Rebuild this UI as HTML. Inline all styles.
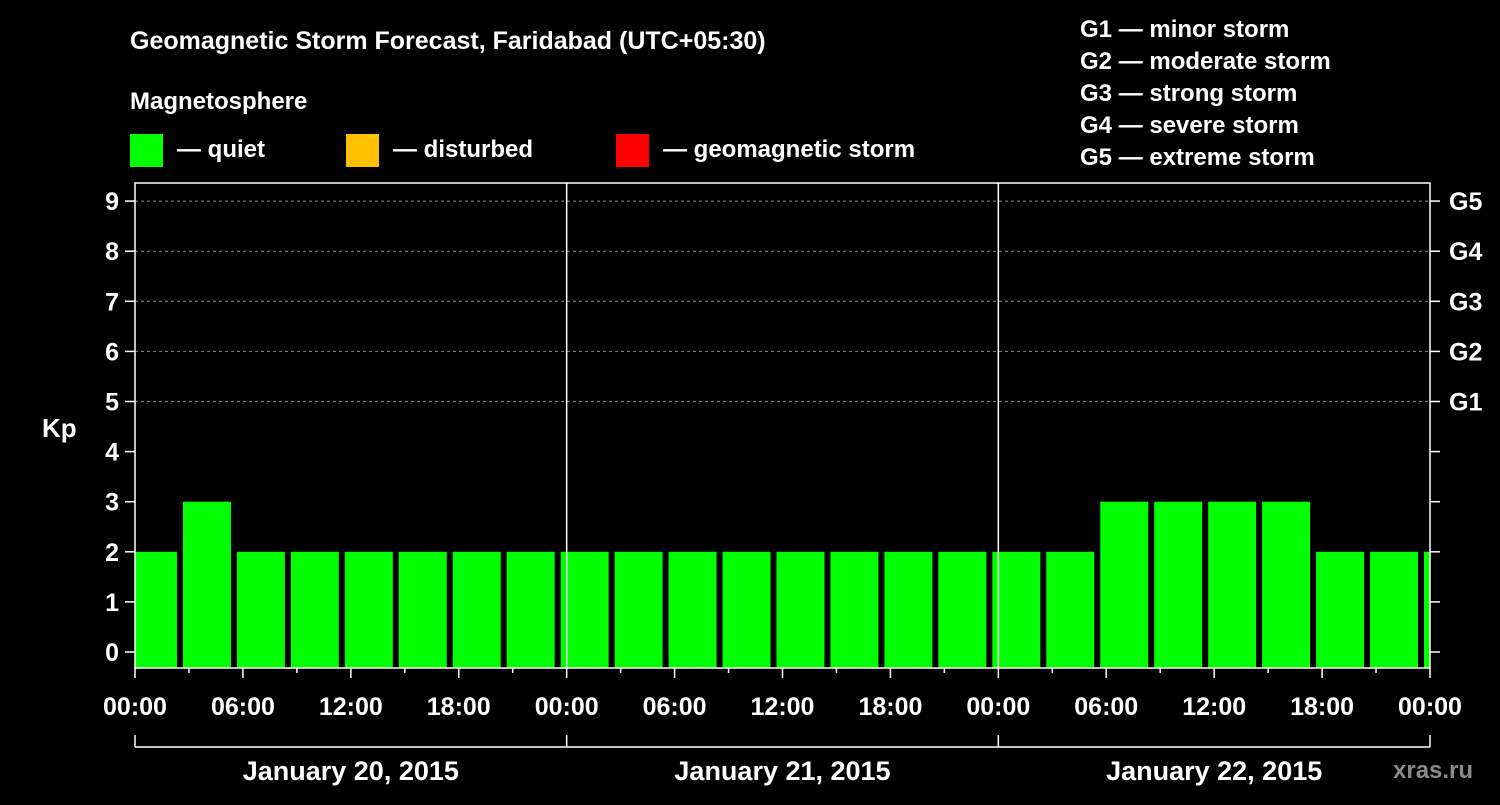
<!DOCTYPE html>
<html><head><meta charset="utf-8"><style>
body{margin:0;background:#000;}
svg text{font-family:"Liberation Sans",sans-serif;font-weight:bold;fill:#fff;}
</style></head><body>
<svg id="c" width="1500" height="800" xmlns="http://www.w3.org/2000/svg">
<rect width="1500" height="800" fill="#000"/>
<text x="130" y="49" font-size="25">Geomagnetic Storm Forecast, Faridabad (UTC+05:30)</text>
<text x="130" y="109" font-size="24">Magnetosphere</text>
<g>
<rect x="130" y="134" width="33" height="33" fill="#00ff00"/>
<text x="177" y="157" font-size="24">— quiet</text>
<rect x="346" y="134" width="33" height="33" fill="#ffc000"/>
<text x="393" y="157" font-size="24">— disturbed</text>
<rect x="616" y="134" width="33" height="33" fill="#ff0000"/>
<text x="663" y="157" font-size="24">— geomagnetic storm</text>
</g>
<g font-size="24">
<text x="1080" y="37">G1 — minor storm</text>
<text x="1080" y="69">G2 — moderate storm</text>
<text x="1080" y="101">G3 — strong storm</text>
<text x="1080" y="133">G4 — severe storm</text>
<text x="1080" y="165">G5 — extreme storm</text>
</g>
<text x="42" y="437" font-size="26">Kp</text>
<text x="1393" y="778" font-size="24" fill="#888" style="fill:#8a8a8a">xras.ru</text>
<defs><clipPath id="pc"><rect x="135" y="183" width="1295" height="485"/></clipPath></defs>
<g id="grid"></g>
<g id="bars" clip-path="url(#pc)"></g>
<g id="axes"></g>
</svg>
<script>
const kpValues=[2,3,2,2,2,2,2,2,2,2,2,2,2,2,2,2,2,2,3,3,3,3,2,2,2];
const yTicks=[0,1,2,3,4,5,6,7,8,9];
const gLabels=["G1","G2","G3","G4","G5"];
const xTickLabels=["00:00","06:00","12:00","18:00","00:00","06:00","12:00","18:00","00:00","06:00","12:00","18:00","00:00"];
const dayLabels=["January 20, 2015","January 21, 2015","January 22, 2015"];
const barStartOffsetH=-0.5;
const ns="http://www.w3.org/2000/svg";
const X0=135,X1=1430,PT=183,PB=668;
function xs(h){return X0+h*(X1-X0)/72;}
function ys(k){return 652-k*50.1;}
function mk(p,tag,a){const e=document.createElementNS(ns,tag);for(const k in a)e.setAttribute(k,a[k]);document.getElementById(p).appendChild(e);return e;}
const bars=document.getElementById('bars');
kpValues.forEach((v,i)=>{
 const h0=barStartOffsetH+3*i;
 const col=v>=5?'#ff0000':(v>=4?'#ffc000':'#00ff00');
 const r=mk('bars','rect',{x:xs(h0)+3,y:ys(v),width:xs(h0+3)-xs(h0)-6,height:PB-ys(v),fill:col});
 
 
});
yTicks.forEach(t=>{
 const y=ys(t);
 if(t>=5){const g=mk('grid','line',{x1:X0,x2:X1,y1:y,y2:y,stroke:'#888','stroke-dasharray':'3,3','stroke-width':1});
 }
 const l=mk('axes','line',{x1:X0-10,x2:X0,y1:y,y2:y,stroke:'#fff','stroke-width':1.5});
 
 const r=mk('axes','line',{x1:X1,x2:X1+10,y1:y,y2:y,stroke:'#fff','stroke-width':1.5});
 
 const tx=mk('axes','text',{x:X0-16,y:y+9,'font-size':25,'text-anchor':'end'});tx.textContent=t;
 
});
gLabels.forEach((g,i)=>{
 const t=mk('axes','text',{x:1449,y:ys(5+i)+9,'font-size':25});t.textContent=g;
 
});
const fr=mk('axes','rect',{x:X0,y:PT,width:X1-X0,height:PB-PT,fill:'none',stroke:'#fff','stroke-width':1.5});

[24,48].forEach(h=>{const l=mk('axes','line',{x1:xs(h),x2:xs(h),y1:PT,y2:PB,stroke:'#fff','stroke-width':1.5});
});
for(let h=0;h<=72;h+=3){const l=mk('axes','line',{x1:xs(h),x2:xs(h),y1:PB,y2:PB+(h%6==0?10:5),stroke:'#fff','stroke-width':1.5});
}
xTickLabels.forEach((s,i)=>{const t=mk('axes','text',{x:xs(i*6),y:715,'font-size':25,'text-anchor':'middle'});t.textContent=s;
});
const bl=mk('axes','line',{x1:X0,x2:X1,y1:747,y2:747,stroke:'#fff','stroke-width':1.5});

[0,24,48,72].forEach(h=>{const l=mk('axes','line',{x1:xs(h),x2:xs(h),y1:735,y2:747,stroke:'#fff','stroke-width':1.5});
});
dayLabels.forEach((d,i)=>{const t=mk('axes','text',{x:xs(i*24+12),y:780,'font-size':27,'text-anchor':'middle'});t.textContent=d;
});
</script>
</body></html>
